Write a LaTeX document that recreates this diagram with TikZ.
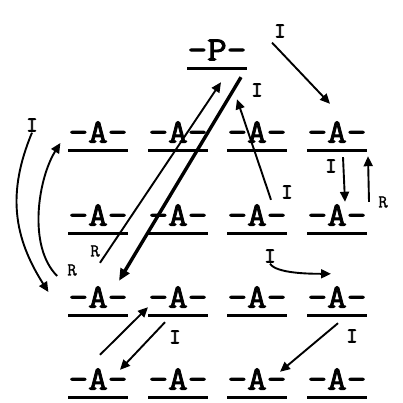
\documentclass[tikz,border=0pt]{standalone}
\usepackage{fontspec}
\newfontfamily\typer[FakeBold=2.5,FakeStretch=1.12]{Latin Modern Mono}
\newfontfamily\typelbl[FakeBold=4]{Latin Modern Mono}
\newfontfamily\hand[FakeBold=1.5]{Latin Modern Mono}
\usetikzlibrary{positioning,arrows.meta,calc}

\begin{document}
\begin{tikzpicture}[
  x=1pt, y=-1pt,
  >={Triangle[length=10pt,width=9pt]},
  slot/.style={font=\fontsize{34}{34}\selectfont\typer,
               inner sep=0pt, minimum height=36pt,
               append after command={([xshift=-30pt]\tikzlastnode.south)
                 edge[line width=2.8pt] ([xshift=30pt]\tikzlastnode.south)}},
  lbl/.style={font=\fontsize{21}{21}\selectfont\typelbl, inner sep=1pt},
  rlbl/.style={font=\fontsize{18}{18}\selectfont\hand, inner sep=1pt},
  arr/.style={->, line width=1.9pt},
  heavy/.style={arr, line width=3.4pt, >={Triangle[length=12pt,width=10pt]}},
]
\useasboundingbox (0,0) rectangle (403,403);

%% ---------- the slots ----------
\node[slot] (p) at (217,50) {-P-};
\foreach \r/\y in {1/132,2/215,3/297,4/379}
  \foreach \c/\x in {1/98,2/178,3/257,4/337}
    \node[slot] (a\r\c) at (\x,\y) {-A-};

%% ---------- long arrows to and from P ----------
\node[lbl] (itop) at (280,31) {I};
\draw[arr] ($(itop.south)+(-8,4)$) -- ($(a14.north)+(-7,-10)$);

\node[rlbl] (rlong) at (95,251) {R};
\draw[arr] ($(a31.north)+(2,-16)$) -- ($(p.south)+(4,14)$);
\node[lbl] (ilong) at (257,90) {I};
\draw[heavy] ($(p.south)+(24,9)$) -- ($(a31.north)+(21,2)$);

\node[lbl] (imid) at (287,192) {I};
\draw[arr] ($(a23.north)+(14,3)$) -- ($(p.south)+(20,31)$);

%% ---------- right column ----------
\node[lbl] (iright) at (331,166) {I};
\draw[arr] ($(a14.south)+(6,7)$) -- ($(a24.north)+(8,5)$);
\node[rlbl] (rright) at (383,202) {R};
\draw[arr] ($(a24.north)+(32,5)$) -- ($(a14.south)+(31,6)$);

%% ---------- left curves ----------
\node[lbl] (ileft) at (32,125) {I};
\draw[arr] (ileft.south) .. controls +(-25,60) and +(-35,-55) .. ($(a31.west)+(-20,-5)$);
\node[rlbl] (rleft) at (72,270) {R};
\draw[arr] ($(rleft.west)+(-9,6)$) .. controls +(-30,-30) and +(-22,35) .. ($(a11.west)+(-8,11)$);

%% ---------- lower moves ----------
\node[lbl] (ishift) at (270,256) {I};
\draw[arr] (ishift.south) .. controls +(6,10) and +(-20,0) .. ($(a34.north)+(-6,-5)$);

\node[lbl] (idown) at (175,337) {I};
\draw[arr] ($(a41.north)+(2,-6)$) -- ($(a31.south)+(50,-8)$);
\draw[arr] ($(a32.south)+(-13,7)$) -- ($(a41.north)+(22,9)$);

\node[lbl] (icorner) at (352,336) {I};
\draw[arr] ($(a34.south)+(1,8)$) -- ($(a43.north)+(23,11)$);

\end{tikzpicture}
\end{document}
